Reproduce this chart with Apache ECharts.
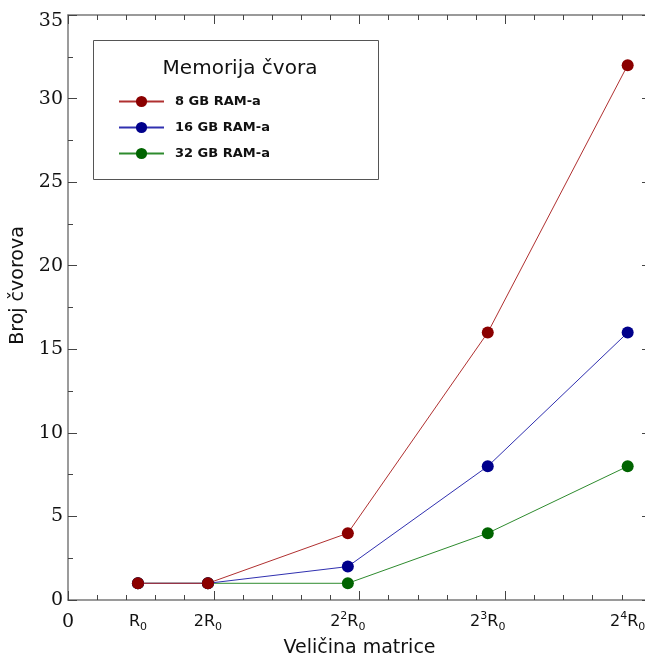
<!DOCTYPE html>
<html>
<head>
<meta charset="utf-8">
<script src="https://cdn.jsdelivr.net/npm/echarts@6/dist/echarts.min.js"></script>
<style>
  html, body { margin: 0; padding: 0; background: #fff; }
  #chart { width: 645px; height: 657px; }
</style>
</head>
<body>
<div id="chart"></div>
<script>
// Podaci (vrijednosti očitane sa slike)
var xPositions = [2.4, 4.8, 9.6, 14.4, 19.2];
var xTickLabels = ['{b|R}{sub|0}', '{b|2R}{sub|0}', '{b|2}{sup|2}{b|R}{sub|0}', '{b|2}{sup|3}{b|R}{sub|0}', '{b|2}{sup|4}{b|R}{sub|0}'];
var ram8 = [1, 1, 4, 16, 32];
var ram16 = [1, 1, 2, 8, 16];
var ram32 = [1, 1, 1, 4, 8];
var seriesNames = ['8 GB RAM-a', '16 GB RAM-a', '32 GB RAM-a'];

function pairs(values) {
    return values.map(function (v, i) { return [xPositions[i], v]; });
}

var chartDom = document.getElementById('chart');
var myChart = echarts.init(chartDom);

var axisColor = '#7a7a7a';
var tickColor = '#444';
var serif = '"DejaVu Serif", serif';
var sans = '"DejaVu Sans", sans-serif';

// osnovna podešavanja za sve četiri strane okvira
function frameAxis(extra) {
    var base = {
        type: 'value',
        axisLine: { show: true, onZero: false, lineStyle: { color: axisColor, width: 1.5 } },
        axisTick: { show: true, inside: true, length: 9, lineStyle: { color: tickColor, width: 1 } },
        splitLine: { show: false },
        minorSplitLine: { show: false }
    };
    return Object.assign(base, extra);
}

var option = {
    backgroundColor: '#fff',
    animation: false,
    grid: { left: 68, right: -6, top: 15, bottom: 57, outerBoundsMode: 'none' },
    xAxis: [
        frameAxis({
            position: 'bottom',
            min: 0, max: 20, interval: 5,
            minorTick: { show: true, splitNumber: 5, length: 5, lineStyle: { color: tickColor, width: 1 } },
            name: 'Veličina matrice',
            nameLocation: 'middle',
            nameGap: 39,
            nameTextStyle: { fontFamily: sans, fontSize: 19, color: '#111' },
            axisLabel: {
                show: true,
                margin: 11,
                customValues: [0].concat(xPositions),
                formatter: function (value) {
                    if (value === 0) return '{z|0}';
                    var idx = xPositions.indexOf(value);
                    return idx >= 0 ? xTickLabels[idx] : '';
                },
                rich: {
                    z: { fontFamily: serif, fontSize: 19, color: '#111', lineHeight: 22 },
                    b: { fontFamily: sans, fontSize: 16, color: '#111', lineHeight: 22 },
                    sub: { fontFamily: sans, fontSize: 11, color: '#111', lineHeight: 12, verticalAlign: 'bottom' },
                    sup: { fontFamily: sans, fontSize: 11, color: '#111', lineHeight: 12, verticalAlign: 'top' }
                }
            }
        }),
        frameAxis({
            position: 'top',
            min: 0, max: 20, interval: 5,
            minorTick: { show: true, splitNumber: 5, length: 5, lineStyle: { color: tickColor, width: 1 } },
            axisLabel: { show: false }
        })
    ],
    yAxis: [
        frameAxis({
            position: 'left',
            min: 0, max: 35, interval: 5,
            minorTick: { show: true, splitNumber: 2, length: 5, lineStyle: { color: tickColor, width: 1 } },
            name: 'Broj čvorova',
            nameLocation: 'middle',
            nameGap: 33,
            nameTextStyle: { fontFamily: sans, fontSize: 19, color: '#111', padding: [0, 0, 0, 44] },
            axisLabel: {
                show: true, margin: 5, fontFamily: serif, fontSize: 19, color: '#111',
                formatter: function (value) { return value === 35 ? '{t|35}' : String(value); },
                rich: { t: { fontFamily: serif, fontSize: 19, color: '#111', padding: [12, 0, 0, 0] } }
            }
        }),
        frameAxis({
            position: 'right',
            min: 0, max: 35, interval: 5,
            minorTick: { show: true, splitNumber: 2, length: 5, lineStyle: { color: tickColor, width: 1 } },
            axisLabel: { show: false }
        })
    ],
    graphic: [{
        type: 'rect',
        left: 93, top: 40,
        shape: { width: 285, height: 139 },
        style: { fill: '#fff', stroke: '#555', lineWidth: 1 },
        z: 10
    }],
    title: {
        text: 'Memorija čvora',
        left: 240, top: 59,
        padding: 0,
        textAlign: 'center',
        textStyle: { fontFamily: sans, fontSize: 20, fontWeight: 'normal', color: '#111' },
        z: 11
    },
    legend: {
        data: seriesNames,
        orient: 'vertical',
        left: 118, top: 95,
        padding: 0,
        itemWidth: 45, itemHeight: 14, itemGap: 13,
        textStyle: { fontFamily: sans, fontSize: 13, fontWeight: 'bold', color: '#111', padding: [0, 0, 0, 6] },
        z: 12
    },
    series: [
        {
            name: '32 GB RAM-a', type: 'line', data: pairs(ram32),
            symbol: 'circle', symbolSize: 12,
            itemStyle: { color: '#006400' },
            lineStyle: { color: '#2e8b2e', width: 1 }
        },
        {
            name: '16 GB RAM-a', type: 'line', data: pairs(ram16),
            symbol: 'circle', symbolSize: 12,
            itemStyle: { color: '#00008b' },
            lineStyle: { color: '#3030b0', width: 1 }
        },
        {
            name: '8 GB RAM-a', type: 'line', data: pairs(ram8),
            symbol: 'circle', symbolSize: 12,
            itemStyle: { color: '#8b0000' },
            lineStyle: { color: '#b03030', width: 1 }
        }
    ]
};

myChart.setOption(option);
</script>
</body>
</html>
